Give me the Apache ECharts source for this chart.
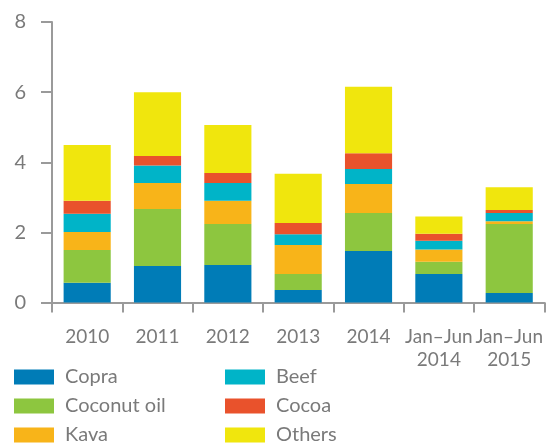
<!DOCTYPE html>
<html>
<head>
<meta charset="utf-8">
<script src="https://cdn.jsdelivr.net/npm/echarts@6/dist/echarts.min.js"></script>
<style>html,body{margin:0;padding:0;background:#fff}#c{width:546px;height:446px}</style>
</head>
<body>
<div id="c"></div>
<script>
const categories = ['2010', '2011', '2012', '2013', '2014', 'Jan–Jun\n2014', 'Jan–Jun\n2015'];
const yTicks = [0, 2, 4, 6, 8];
const copra      = [0.56, 1.04, 1.07, 0.36, 1.47, 0.81, 0.27];
const coconutOil = [0.94, 1.63, 1.17, 0.45, 1.08, 0.35, 1.97];
const kava       = [0.51, 0.74, 0.66, 0.83, 0.83, 0.35, 0.08];
const beef       = [0.52, 0.50, 0.51, 0.31, 0.43, 0.25, 0.23];
const cocoa      = [0.37, 0.27, 0.28, 0.32, 0.45, 0.20, 0.09];
const others     = [1.59, 1.82, 1.37, 1.40, 1.89, 0.49, 0.65];

const seriesDefs = [
  ['Copra', copra, '#007CB7'],
  ['Coconut oil', coconutOil, '#8DC63F'],
  ['Kava', kava, '#F8B419'],
  ['Beef', beef, '#00B4C8'],
  ['Cocoa', cocoa, '#E9522C'],
  ['Others', others, '#F0E60D']
];
const font = 'Lato, "Open Sans", sans-serif';
const textColor = '#7a7a7a';
const axisColor = '#9a9a9a';

const chart = echarts.init(document.getElementById('c'), null, {renderer: 'canvas'});
const legendBase = {
  orient: 'vertical', top: 367, padding: 0, itemWidth: 40, itemHeight: 15, itemGap: 9,
  icon: 'rect', selectedMode: false,
  textStyle: {fontFamily: font, fontSize: 20, color: textColor, lineHeight: 20, padding: [0, 0, 0, 6]}
};
chart.setOption({
  animation: false,
  grid: {left: 52, right: 1, top: 22, bottom: 143.5, containLabel: false},
  legend: [
    Object.assign({}, legendBase, {left: 14, data: ['Copra', 'Coconut oil', 'Kava']}),
    Object.assign({}, legendBase, {left: 225, data: ['Beef', 'Cocoa', 'Others']})
  ],
  xAxis: {
    type: 'category', data: categories,
    axisLine: {lineStyle: {color: axisColor, width: 2}},
    axisTick: {show: true, length: 10, lineStyle: {color: axisColor, width: 2}},
    axisLabel: {interval: 0, margin: 23, fontFamily: font, fontSize: 19, color: textColor, lineHeight: 23}
  },
  yAxis: {
    type: 'value', min: yTicks[0], max: yTicks[yTicks.length - 1], interval: 2,
    splitLine: {show: false},
    axisLine: {show: true, lineStyle: {color: axisColor, width: 2}},
    axisTick: {show: true, length: 11, lineStyle: {color: axisColor, width: 2}},
    axisLabel: {margin: 26, fontFamily: font, fontSize: 20, color: textColor}
  },
  series: seriesDefs.map(([name, data, color]) => ({
    name, type: 'bar', stack: 'total', data, barWidth: '67%',
    itemStyle: {color}
  }))
});
</script>
</body>
</html>
